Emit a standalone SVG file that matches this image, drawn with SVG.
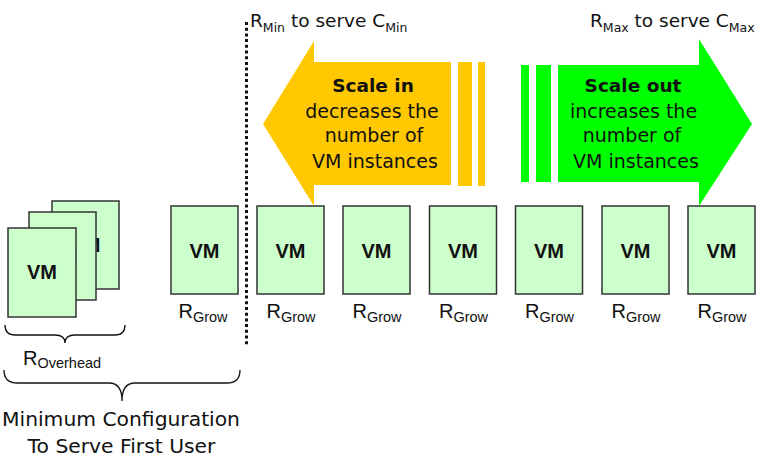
<svg xmlns="http://www.w3.org/2000/svg" width="764" height="457" viewBox="0 0 764 457">
  <style>
    .vm rect { fill: #ccffcc; stroke: #333333; stroke-width: 1.5; }
    .vm text { font-family: "Liberation Sans", Arial, sans-serif; font-weight: bold; font-size: 20px; fill: #111; text-anchor: middle; }
    .r { font-family: "Liberation Sans", Arial, sans-serif; font-size: 20px; fill: #111; }
    .r tspan.sub { font-size: 14.5px; }
    .lbl { font-family: "DejaVu Sans", Verdana, sans-serif; font-size: 18.5px; fill: #111; }
    .lbl tspan.sub { font-size: 12.5px; }
    .body { font-family: "DejaVu Sans", Verdana, sans-serif; font-size: 19px; fill: #111; text-anchor: middle; }
    .body .b { font-weight: bold; font-size: 18.5px; }
    .cap { font-family: "DejaVu Sans", Verdana, sans-serif; font-size: 20.3px; fill: #111; text-anchor: middle; }
    .brace { fill: none; stroke: #111; stroke-width: 1.3; }
  </style>

  <!-- overhead stack: three VM sheets, back to front -->
  <g id="overhead-vm-3" class="vm"><rect x="52" y="201" width="67" height="88"/><text x="85.5" y="252">VM</text></g>
  <g id="overhead-vm-2" class="vm"><rect x="29" y="212" width="67" height="88"/><text x="62.5" y="263">VM</text></g>
  <g id="overhead-vm-1" class="vm"><rect x="8" y="228" width="68" height="89"/><text x="42" y="279">VM</text></g>
  <text class="r" x="23" y="364.5">R<tspan class="sub" dy="3.5" font-size="15.3">Overhead</tspan></text>

  <!-- first growth VM -->
  <g id="vm-first" class="vm"><rect x="171" y="206" width="67" height="88"/><text x="204.5" y="258">VM</text></g>
  <text class="r" x="178.5" y="318">R<tspan class="sub" dy="4">Grow</tspan></text>

  <!-- scalable VMs -->
  <g id="vm-1" class="vm"><rect x="257" y="206" width="67" height="88"/><text x="290.5" y="258">VM</text></g>
  <g id="vm-2" class="vm"><rect x="343" y="206" width="67" height="88"/><text x="376.5" y="258">VM</text></g>
  <g id="vm-3" class="vm"><rect x="429.5" y="206" width="67" height="88"/><text x="463" y="258">VM</text></g>
  <g id="vm-4" class="vm"><rect x="515.5" y="206" width="67" height="88"/><text x="549" y="258">VM</text></g>
  <g id="vm-5" class="vm"><rect x="602" y="206" width="67" height="88"/><text x="635.5" y="258">VM</text></g>
  <g id="vm-6" class="vm"><rect x="688" y="206" width="67" height="88"/><text x="721.5" y="258">VM</text></g>

  <g id="grow-labels">
    <text class="r" x="266.5" y="318">R<tspan class="sub" dy="4">Grow</tspan></text>
    <text class="r" x="352.5" y="318">R<tspan class="sub" dy="4">Grow</tspan></text>
    <text class="r" x="439" y="318">R<tspan class="sub" dy="4">Grow</tspan></text>
    <text class="r" x="525" y="318">R<tspan class="sub" dy="4">Grow</tspan></text>
    <text class="r" x="611.5" y="318">R<tspan class="sub" dy="4">Grow</tspan></text>
    <text class="r" x="697.5" y="318">R<tspan class="sub" dy="4">Grow</tspan></text>
  </g>

  <!-- scale in arrow -->
  <g id="scale-in">
    <polygon fill="#ffc800" points="314,41 263,124 314,206 314,185 451,185 451,62 314,62"/>
    <rect x="458" y="62" width="14" height="124" fill="#ffc800"/>
    <rect x="478" y="62" width="7" height="124" fill="#ffc800"/>
    <text class="body" x="373"><tspan class="b" x="373" y="92">Scale in</tspan><tspan x="372" y="117.5">decreases the</tspan><tspan x="374" y="142">number of</tspan><tspan x="375" y="168">VM instances</tspan></text>
  </g>

  <!-- scale out arrow -->
  <g id="scale-out">
    <polygon fill="#00ff00" points="558,65 699,65 699,39 752,124 699,206 699,182 558,182"/>
    <rect x="521" y="65" width="8" height="117" fill="#00ff00"/>
    <rect x="536" y="65" width="15" height="117" fill="#00ff00"/>
    <text class="body" x="634"><tspan class="b" x="633" y="92">Scale out</tspan><tspan x="633.5" y="117.5">increases the</tspan><tspan x="632" y="142">number of</tspan><tspan x="636" y="168">VM instances</tspan></text>
  </g>

  <!-- bounds -->
  <text class="lbl" x="250" y="27">R<tspan class="sub" dy="5">Min</tspan><tspan dy="-5"> to serve C</tspan><tspan class="sub" dy="5">Min</tspan></text>
  <text class="lbl" x="590" y="27">R<tspan class="sub" dy="5">Max</tspan><tspan dy="-5"> to serve C</tspan><tspan class="sub" dy="5">Max</tspan></text>

  <!-- separator and braces -->
  <g id="connectors">
    <line x1="246.5" y1="22" x2="246.5" y2="346" stroke="#111" stroke-width="3" stroke-dasharray="3 2.7"/>
    <path class="brace" d="M5,325 Q5,335 15,335 L55,335 Q65,335 65,343 Q65,335 75,335 L115,335 Q125,335 125,325"/>
    <path class="brace" d="M4,370 Q4,383 17,383 L109,383 Q122,383 122,401 Q122,383 135,383 L227,383 Q240,383 240,370"/>
  </g>

  <text class="cap" x="121" y="426">Minimum Configuration</text>
  <text class="cap" x="121.5" y="453">To Serve First User</text>
</svg>
